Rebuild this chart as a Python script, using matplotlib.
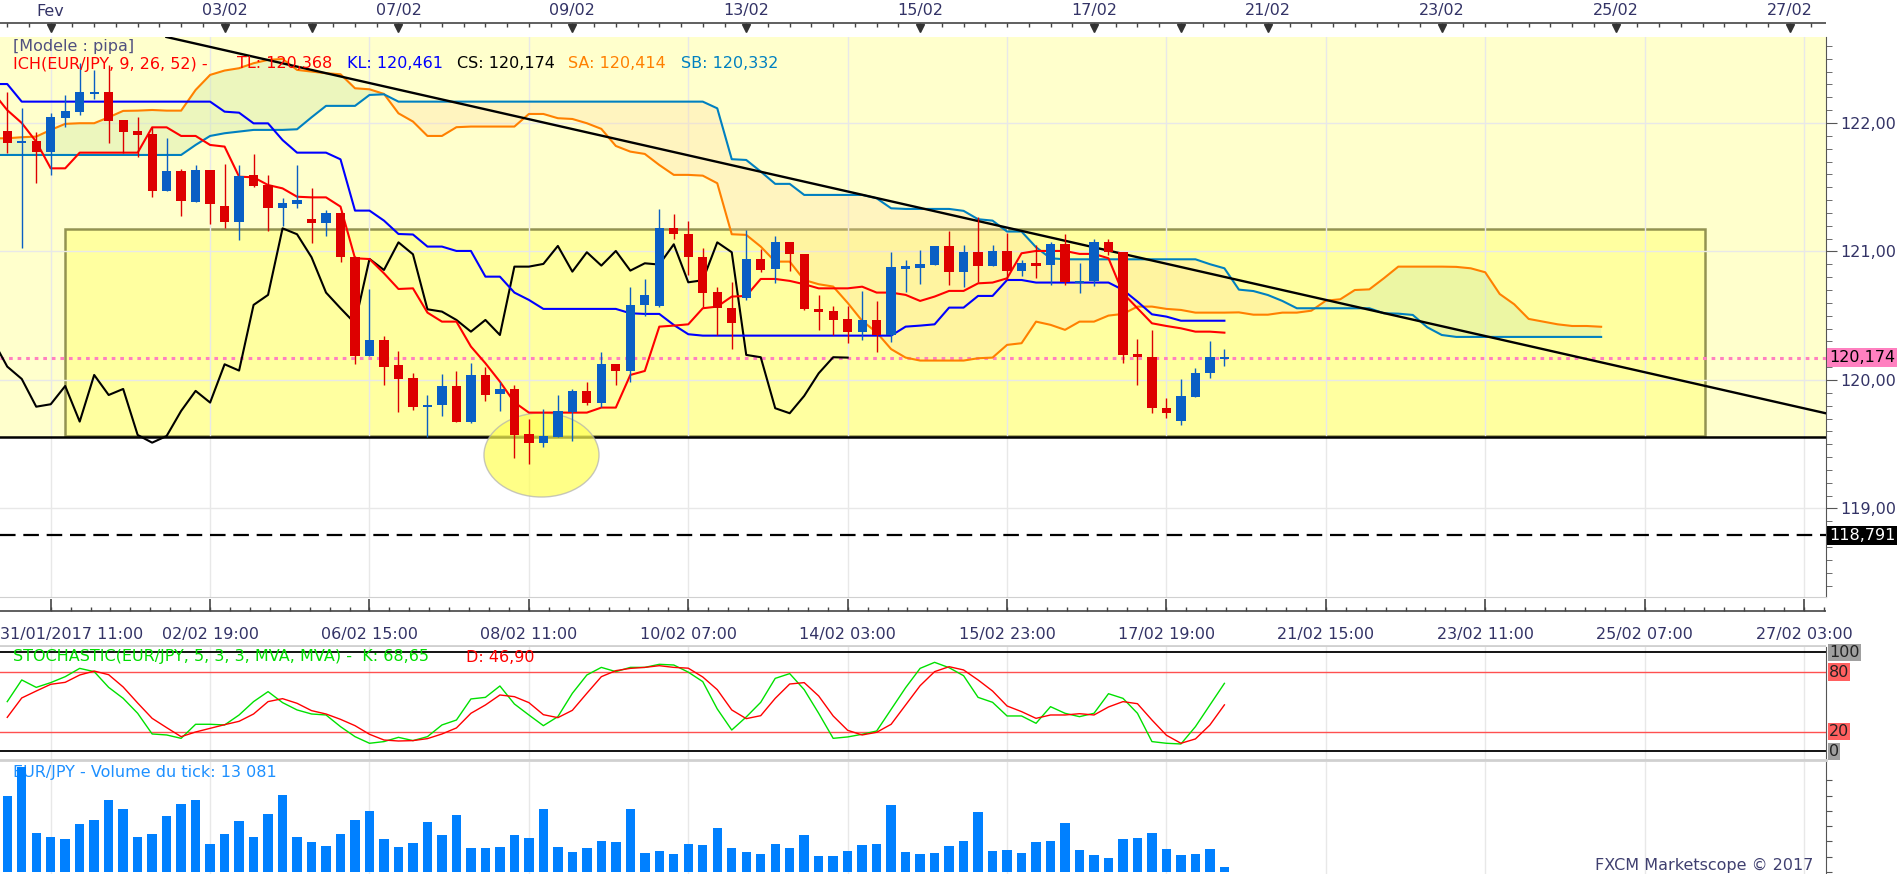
import numpy as np
import matplotlib.pyplot as plt
from matplotlib.patches import Rectangle, Ellipse

plt.rcParams['font.family'] = ['DejaVu Sans']

# ---------------- data (4h candles, index 0 = first visible candle) ----------------
opens = [121.937, 121.850, 121.860, 121.777, 122.041, 122.088, 122.232, 122.238, 122.023, 121.937,
         121.914, 121.473, 121.626, 121.388, 121.634, 121.354, 121.232, 121.592, 121.517, 121.341,
         121.369, 121.250, 121.224, 121.297, 120.960, 120.187, 120.311, 120.117, 120.013, 119.798,
         119.806, 119.953, 119.676, 120.039, 119.889, 119.930, 119.580, 119.512, 119.559, 119.754,
         119.915, 119.824, 120.122, 120.073, 120.584, 120.579, 121.180, 121.134, 120.955, 120.682,
         120.558, 120.641, 120.942, 120.861, 121.071, 120.978, 120.550, 120.537, 120.475, 120.376,
         120.467, 120.350, 120.874, 120.874, 120.895, 121.043, 120.843, 120.994, 120.890, 121.004,
         120.851, 120.908, 120.895, 121.056, 120.760, 120.773, 121.071, 120.994, 120.200, 120.177,
         119.780, 119.684, 119.870, 120.052, 120.170]
highs = [122.244, 122.114, 121.932, 122.075, 122.218, 122.470, 122.410, 122.450, 122.023, 122.044,
         121.971, 121.880, 121.639, 121.673, 121.634, 121.678, 121.673, 121.756, 121.595, 121.419,
         121.673, 121.497, 121.323, 121.310, 120.965, 120.705, 120.342, 120.225, 120.052, 119.883,
         120.047, 120.070, 120.135, 120.099, 119.982, 119.961, 119.694, 119.772, 119.883, 119.930,
         119.982, 120.215, 120.122, 120.726, 120.786, 121.328, 121.289, 121.237, 121.025, 120.726,
         120.760, 121.167, 121.020, 121.121, 121.071, 120.978, 120.662, 120.576, 120.576, 120.693,
         120.615, 120.999, 120.934, 121.012, 121.043, 121.160, 121.051, 121.271, 121.051, 121.147,
         120.934, 121.051, 121.077, 121.134, 120.908, 121.095, 121.095, 120.994, 120.317, 120.389,
         119.858, 120.005, 120.091, 120.304, 120.241]
lows = [121.764, 121.024, 121.530, 121.595, 121.971, 122.062, 122.190, 121.847, 121.764, 121.738,
        121.426, 121.473, 121.279, 121.388, 121.214, 121.185, 121.089, 121.504, 121.162, 121.201,
        121.341, 121.063, 121.123, 120.921, 120.122, 120.187, 119.961, 119.748, 119.766, 119.554,
        119.723, 119.676, 119.663, 119.839, 119.761, 119.390, 119.344, 119.481, 119.559, 119.528,
        119.806, 119.787, 119.961, 119.987, 120.501, 120.571, 121.095, 120.817, 120.571, 120.350,
        120.241, 120.623, 120.843, 120.758, 120.851, 120.545, 120.389, 120.350, 120.291, 120.311,
        120.221, 120.298, 120.688, 120.747, 120.895, 120.739, 120.726, 120.760, 120.890, 120.778,
        120.809, 120.797, 120.739, 120.739, 120.680, 120.732, 120.973, 120.135, 119.961, 119.746,
        119.702, 119.650, 119.870, 120.018, 120.112]
closes = [121.847, 121.856, 121.777, 122.044, 122.093, 122.238, 122.240, 122.018, 121.932, 121.906,
          121.473, 121.626, 121.395, 121.634, 121.369, 121.232, 121.587, 121.509, 121.341, 121.375,
          121.401, 121.224, 121.297, 120.960, 120.187, 120.311, 120.104, 120.008, 119.792, 119.811,
          119.953, 119.676, 120.039, 119.883, 119.930, 119.572, 119.512, 119.564, 119.759, 119.915,
          119.824, 120.122, 120.073, 120.584, 120.662, 121.180, 121.134, 120.955, 120.680, 120.558,
          120.441, 120.942, 120.856, 121.071, 120.978, 120.550, 120.532, 120.467, 120.376, 120.467,
          120.350, 120.882, 120.882, 120.903, 121.043, 120.843, 120.994, 120.890, 121.004, 120.851,
          120.908, 120.898, 121.056, 120.760, 120.776, 121.071, 120.994, 120.195, 120.177, 119.780,
          119.741, 119.876, 120.052, 120.177, 120.174]

# Ichimoku lines, index -1 .. 84
tenkan = [122.24, 122.10, 122.00, 121.854, 121.647, 121.647,
          121.769, 121.769, 121.769, 121.769, 121.769,
          121.966, 121.966, 121.899, 121.899, 121.829, 121.816,
          121.582, 121.577, 121.517, 121.491, 121.426, 121.421, 121.421, 121.349,
          120.947, 120.941, 120.830, 120.708, 120.713,
          120.524, 120.454, 120.454, 120.260, 120.130, 119.987, 119.826,
          119.746, 119.746, 119.746, 119.746, 119.746,
          119.785, 119.785, 120.039, 120.070,
          120.415, 120.423, 120.433, 120.558, 120.571, 120.649, 120.654,
          120.786, 120.786, 120.771, 120.745, 120.713, 120.713, 120.713,
          120.726, 120.680, 120.680, 120.662, 120.615, 120.649, 120.693, 120.693,
          120.752, 120.758, 120.791, 120.986, 121.004, 121.004, 121.004,
          120.981, 120.981, 120.947, 120.675, 120.558, 120.441, 120.420,
          120.402, 120.376, 120.376, 120.368]
kijun = [122.303, 122.303,
         122.166, 122.166, 122.166, 122.166, 122.166, 122.166, 122.166,
         122.166, 122.166, 122.166, 122.166, 122.166, 122.166, 122.166,
         122.088, 122.080, 121.997, 121.997, 121.867, 121.769, 121.769, 121.769, 121.717,
         121.318, 121.318, 121.240, 121.136, 121.132,
         121.038, 121.038, 121.004, 121.004, 120.804, 120.804, 120.680, 120.623,
         120.553, 120.553, 120.553, 120.553, 120.553, 120.553,
         120.519, 120.514, 120.514, 120.428, 120.356,
         120.345, 120.345, 120.345, 120.345, 120.345, 120.345, 120.345,
         120.345, 120.345, 120.345, 120.345, 120.345, 120.345, 120.345,
         120.415, 120.423, 120.433, 120.563, 120.563, 120.654, 120.654, 120.778, 120.778,
         120.758, 120.758, 120.758, 120.758, 120.758, 120.758,
         120.701, 120.610, 120.511, 120.493,
         120.461, 120.461, 120.461, 120.461]

# Senkou spans, index -1 .. 110 (shifted 26 ahead)
senkou_a = [121.880, 121.881, 121.889, 121.894, 121.946, 121.993, 121.998, 121.998, 122.044, 122.094,
            122.096, 122.101, 122.096, 122.096, 122.257, 122.374, 122.408, 122.426, 122.465, 122.491,
            122.498, 122.413, 122.400, 122.387, 122.379, 122.270, 122.262, 122.226, 122.075, 122.011,
            121.899, 121.899, 121.967, 121.972, 121.972, 121.972, 121.972, 122.070, 122.070, 122.037,
            122.031, 121.998, 121.954, 121.821, 121.777, 121.759, 121.673, 121.596, 121.596, 121.590,
            121.531, 121.134, 121.129, 121.038, 120.921, 120.921, 120.778, 120.745, 120.727, 120.600,
            120.460, 120.370, 120.240, 120.174, 120.151, 120.151, 120.151, 120.151, 120.169, 120.174,
            120.273, 120.286, 120.454, 120.429, 120.390, 120.454, 120.454, 120.501, 120.514, 120.571,
            120.571, 120.553, 120.545, 120.524, 120.524, 120.524, 120.526, 120.508, 120.508, 120.524,
            120.524, 120.539, 120.617, 120.628, 120.700, 120.705, 120.791, 120.882, 120.882, 120.882,
            120.882, 120.880, 120.869, 120.838, 120.669, 120.589, 120.475, 120.454, 120.433, 120.420,
            120.420, 120.414]
senkou_b = [121.751, 121.751, 121.751, 121.751, 121.751, 121.751, 121.751, 121.751, 121.751, 121.751,
            121.751, 121.751, 121.751, 121.751, 121.829, 121.899, 121.920, 121.933, 121.946, 121.946,
            121.946, 121.951, 122.044, 122.133, 122.133, 122.133, 122.218, 122.223, 122.166, 122.166,
            122.166, 122.166, 122.166, 122.166, 122.166, 122.166, 122.166, 122.166, 122.166, 122.166,
            122.166, 122.166, 122.166, 122.166, 122.166, 122.166, 122.166, 122.166, 122.166, 122.166,
            122.114, 121.718, 121.712, 121.622, 121.526, 121.526, 121.440, 121.440, 121.440, 121.440,
            121.440, 121.414, 121.336, 121.331, 121.331, 121.331, 121.331, 121.316, 121.251, 121.240,
            121.155, 121.155, 121.033, 120.947, 120.939, 120.939, 120.939, 120.939, 120.939, 120.939,
            120.939, 120.939, 120.939, 120.939, 120.901, 120.869, 120.703, 120.692, 120.661, 120.615,
            120.558, 120.558, 120.558, 120.558, 120.558, 120.558, 120.519, 120.516, 120.506, 120.410,
            120.350, 120.335, 120.335, 120.335, 120.335, 120.335, 120.335, 120.335, 120.335, 120.335,
            120.335, 120.335]

stoch_k = [50.2, 72.1, 64.6, 69.4, 75.4, 83.8, 80.5, 64.6, 53.5, 38.4,
           17.5, 16.5, 13.1, 27.3, 27.3, 26.6, 36.7, 50.2, 60.3, 49.2,
           41.8, 37.7, 36.7, 24.9, 14.8, 8.1, 9.8, 14.1, 10.8, 14.8,
           26.6, 31.6, 52.9, 54.5, 66.0, 47.8, 36.7, 25.9, 35.0, 58.6,
           77.1, 84.8, 80.5, 84.8, 84.8, 87.9, 87.2, 80.0, 70.4, 42.8,
           21.5, 34.7, 49.5, 73.7, 78.5, 62.3, 38.4, 13.1, 14.5, 17.2,
           20.5, 42.4, 64.3, 83.8, 89.9, 84.5, 76.4, 54.5, 49.5, 35.7,
           35.7, 28.3, 45.1, 38.4, 35.0, 38.4, 58.2, 53.5, 38.4, 9.8,
           8.1, 7.4, 24.9, 46.8, 68.65]
stoch_d = [34.3, 53.9, 60.9, 67.7, 69.7, 77.1, 81.1, 77.4, 65.0, 48.8,
           33.3, 23.9, 14.8, 19.5, 23.2, 26.9, 30.3, 37.7, 50.2, 53.2,
           48.5, 41.1, 37.7, 32.3, 25.9, 17.2, 11.4, 10.4, 10.8, 12.8,
           17.5, 23.6, 38.4, 46.8, 56.9, 55.2, 49.2, 37.0, 34.0, 41.4,
           58.6, 75.4, 81.5, 83.8, 84.8, 86.5, 84.8, 84.0, 75.1, 62.3,
           41.8, 33.0, 36.0, 53.5, 68.0, 69.4, 55.9, 35.7, 21.2, 16.5,
           19.2, 27.3, 46.8, 66.3, 80.5, 85.5, 82.2, 72.1, 60.9, 45.8,
           40.1, 33.3, 36.7, 36.7, 38.0, 36.7, 44.8, 50.2, 48.1, 31.6,
           16.2, 8.1, 12.5, 26.6, 46.90]

# tick volume, thousands
volume = [198, 275, 103, 91, 86, 126, 135, 188, 166, 91,
          99, 146, 177, 189, 72, 99, 133, 91, 153, 201,
          91, 78, 67, 100, 135, 160, 86, 65, 75, 130,
          96, 148, 62, 62, 65, 96, 88, 164, 65, 52,
          62, 80, 78, 164, 49, 54, 46, 73, 71, 115,
          63, 52, 47, 73, 63, 97, 42, 42, 55, 71,
          73, 175, 52, 47, 50, 68, 81, 157, 55, 58,
          50, 78, 81, 128, 58, 44, 37, 86, 89, 102,
          60, 44, 47, 60, 13.081]

bottom_ticks = [14, 25, 36, 47, 58, 69, 80, 91, 102, 113, 124]
bottom_labels = ['02/02 19:00', '06/02 15:00', '08/02 11:00', '10/02 07:00', '14/02 03:00',
                 '15/02 23:00', '17/02 19:00', '21/02 15:00', '23/02 11:00', '25/02 07:00',
                 '27/02 03:00']
top_ticks = [3, 15, 27, 39, 51, 63, 75, 87, 99, 111, 123]
top_labels = ['Fev', '03/02', '07/02', '09/02', '13/02', '15/02', '17/02',
              '21/02', '23/02', '25/02', '27/02']
monday_ticks = [21, 81]
price_ticks = [119, 120, 121, 122]

support = 119.56
target = 118.791
last_close = 120.174
trend_k = [27.1, 111.3]
trend_p = [122.257, 120.104]

# ---------------- layout ----------------
W, H = 1903, 874
STEP = 14.49
XL = (-0.5, 1826 / STEP - 0.5)
fig = plt.figure(figsize=(W / 100, H / 100), dpi=100)
fig.patch.set_facecolor('white')


def px_axes(x0, y0, x1, y1):
    return fig.add_axes([x0 / W, 1 - y1 / H, (x1 - x0) / W, (y1 - y0) / H])


def fmt(v, d=2):
    return f'{v:.{d}f}'.replace('.', ',')


NAVY = '#333366'
FS = 11.5
kc = np.arange(len(closes))
kl = np.arange(-1, len(tenkan) - 1)
ks = np.arange(-1, len(senkou_a) - 1)
major_x = [3] + bottom_ticks

# ---------------- main price panel ----------------
ax = px_axes(0, 37, 1826, 597)
ax.set_xlim(*XL)
ax.set_ylim(118.311, 122.669)
ax.axhspan(support, 123, color='#FFFFCC', zorder=0)
ax.add_patch(Rectangle((4.0, 119.565), 113.2, 121.175 - 119.565, fc='#FFFF99', ec='#808040',
                       lw=1.8, alpha=0.85, zorder=1))
for x in major_x:
    ax.axvline(x, color='#e8e8e8', lw=1, zorder=1.5)
for y in price_ticks:
    ax.axhline(y, color='#e8e8e8', lw=1, zorder=1.5)

sa = np.array(senkou_a)
sb = np.array(senkou_b)
ax.fill_between(ks, sa, sb, where=sa >= sb, interpolate=True, color='#d0eaa8', alpha=0.4, lw=0, zorder=2)
ax.fill_between(ks, sa, sb, where=sa < sb, interpolate=True, color='#ffd9a0', alpha=0.28, lw=0, zorder=2)

ax.axhline(support, color='black', lw=1.8, zorder=3)
ax.axhline(target, color='black', lw=1.6, ls=(0, (7, 3.5)), zorder=3)
ax.axhline(last_close, color='#FF80C0', lw=2.2, ls=(0, (1.2, 1.6)), zorder=3)
ax.add_patch(Ellipse((36.87, 119.416), 7.94, 0.654, fc='#FFFF55', ec='#b0b0b0', lw=1, alpha=0.7, zorder=3.5))

ax.plot(ks, sa, color='#FF8000', lw=1.5, zorder=4)
ax.plot(ks, sb, color='#0080C0', lw=1.5, zorder=4)
ax.plot(kl, kijun, color='#0000FF', lw=1.5, zorder=4.2)
ax.plot(kl, tenkan, color='#FF0000', lw=1.5, zorder=4.3)
ax.plot(np.arange(-1, len(closes) - 26), closes[25:], color='black', lw=1.5, zorder=4.1)
ax.axline((trend_k[0], trend_p[0]), (trend_k[1], trend_p[1]), color='black', lw=1.7, zorder=4.4)

o = np.array(opens)
c = np.array(closes)
up = c >= o
cols = np.where(up, '#0A5FC4', '#DD0000')
ax.vlines(kc, lows, highs, colors=cols, lw=1, zorder=5)
body = np.maximum(np.abs(c - o), 0.018)
ax.bar(kc, body, bottom=np.minimum(o, c) - np.where(np.abs(c - o) < 0.018, 0.009, 0), width=0.64,
       color=cols, zorder=5.5, lw=0)

ax.yaxis.tick_right()
ax.set_yticks(price_ticks)
ax.set_yticklabels([fmt(v) for v in price_ticks])
ax.set_yticks(np.arange(118.4, 122.7, 0.1), minor=True)
ax.tick_params(axis='y', which='major', direction='out', length=8, pad=2, labelsize=FS,
               labelcolor=NAVY, color='#555555')
ax.tick_params(axis='y', which='minor', direction='out', length=4, color='#555555')
ax.set_xticks([])
for s in ['left', 'top']:
    ax.spines[s].set_visible(False)
ax.spines['right'].set_color('#555555')
ax.spines['bottom'].set_color('#d0d0d0')

ax.annotate(fmt(last_close, 3), xy=(1, last_close), xycoords=('axes fraction', 'data'),
            xytext=(2, 0), textcoords='offset points', va='center', ha='left', fontsize=FS,
            color='black', bbox=dict(boxstyle='square,pad=0.12', fc='#FF80C0', ec='none'))
ax.annotate(fmt(target, 3), xy=(1, target), xycoords=('axes fraction', 'data'),
            xytext=(2, 0), textcoords='offset points', va='center', ha='left', fontsize=FS,
            color='white', bbox=dict(boxstyle='square,pad=0.12', fc='black', ec='none'))

# legend texts
def ftxt(x, y, s, **kw):
    fig.text(x / W, 1 - y / H, s, va='center', ha='left', fontsize=FS, **kw)


ftxt(13, 46, '[Modele : pipa]', color='#505080')
ftxt(13, 64, 'ICH(EUR/JPY, 9, 26, 52) -', color='#FF0000')
ftxt(237, 64, 'TL: ' + fmt(tenkan[-1], 3), color='#FF0000')
ftxt(347, 64, 'KL: ' + fmt(kijun[-1], 3), color='#0000FF')
ftxt(457, 64, 'CS: ' + fmt(closes[-1], 3), color='black')
ftxt(568, 64, 'SA: ' + fmt(senkou_a[-1], 3), color='#FF8000')
ftxt(681, 64, 'SB: 120,332', color='#0080C0')

# ---------------- top date strip ----------------
axt = px_axes(0, 0, 1826, 37)
axt.set_xlim(*XL)
axt.set_ylim(37, 0)
axt.axis('off')
axt.axhline(23, color='#444444', lw=1.2)
axt.vlines(np.arange(0, 126, 1.5), 23, 27, color='#444444', lw=1)
axt.plot(top_ticks + monday_ticks, [28] * len(top_ticks + monday_ticks), 'v', color='#333333', ms=6)
for k, lab in zip(top_ticks, top_labels):
    axt.text(k, 11, lab, ha='center', va='center', fontsize=FS, color=NAVY)

# ---------------- bottom time strip ----------------
axb = px_axes(0, 597, 1826, 647)
axb.set_xlim(*XL)
axb.set_ylim(50, 0)
axb.axis('off')
axb.axhline(14, color='#444444', lw=1.2)
axb.axhline(49, color='#d0d0d0', lw=2)
axb.vlines(np.arange(3, 126, 11 / 8), 10, 14, color='#444444', lw=1)
axb.vlines(major_x, 2, 14, color='#444444', lw=1.2)
axb.text(-0.5, 37, '31/01/2017 11:00', ha='left', va='center', fontsize=FS, color=NAVY)
for k, lab in zip(bottom_ticks, bottom_labels):
    axb.text(k, 37, lab, ha='center', va='center', fontsize=FS, color=NAVY)

# ---------------- stochastic panel ----------------
axs = px_axes(0, 647, 1826, 760)
axs.set_xlim(*XL)
axs.set_ylim(-8.8, 105.4)
for x in major_x:
    axs.axvline(x, color='#e8e8e8', lw=1, zorder=0)
axs.axhline(100, color='black', lw=1.3)
axs.axhline(0, color='black', lw=1.3)
axs.axhline(80, color='#FF5050', lw=1)
axs.axhline(20, color='#FF5050', lw=1)
axs.plot(kc, stoch_k, color='#00E000', lw=1)
axs.plot(kc, stoch_d, color='#FF0000', lw=1)
axs.set_xticks([])
axs.set_yticks([])
for s in ['left', 'top']:
    axs.spines[s].set_visible(False)
axs.spines['bottom'].set_color('#d0d0d0')
axs.spines['bottom'].set_linewidth(2)
axs.spines['right'].set_color('#555555')
for v, bg in [(100, '#A0A0A0'), (80, '#FF6060'), (20, '#FF6060'), (0, '#A0A0A0')]:
    axs.annotate(str(v), xy=(1, v), xycoords=('axes fraction', 'data'), xytext=(2, 0),
                 textcoords='offset points', va='center', ha='left', fontsize=FS, color='#222222',
                 bbox=dict(boxstyle='square,pad=0.08', fc=bg, ec='none'))
axs.text(13 / 1826, 1 - 10 / 113, 'STOCHASTIC(EUR/JPY, 5, 3, 3, MVA, MVA) -  K: ' + fmt(stoch_k[-1]),
         transform=axs.transAxes, va='center', ha='left', fontsize=FS, color='#00DD00')
axs.text(466 / 1826, 1 - 10 / 113, 'D: ' + fmt(stoch_d[-1]), transform=axs.transAxes,
         va='center', ha='left', fontsize=FS, color='#FF0000')

# ---------------- volume panel ----------------
axv = px_axes(0, 762, 1826, 874)
axv.set_xlim(*XL)
axv.set_ylim(-5.2, 287.8)
for x in major_x:
    axv.axvline(x, color='#e8e8e8', lw=1, zorder=0)
axv.text(13 / 1826, 1 - 10 / 112, 'EUR/JPY - Volume du tick: 13 081', transform=axv.transAxes,
         va='center', ha='left', fontsize=FS, color='#1E90FF', zorder=1)
axv.bar(kc, volume, width=0.65, color='#0080FF', zorder=2)
axv.set_xticks([])
axv.set_yticks(np.arange(0, 280, 40))
axv.tick_params(axis='y', right=True, left=False, labelleft=False, length=4, color='#555555')
for s in ['left', 'top', 'bottom']:
    axv.spines[s].set_visible(False)
axv.spines['right'].set_color('#555555')
axv.text(1813 / 1826, 0.08, 'FXCM Marketscope \u00a9 2017', transform=axv.transAxes,
         va='center', ha='right', fontsize=FS, color='#404070')

fig.savefig('out.png', dpi=100, facecolor='white')
